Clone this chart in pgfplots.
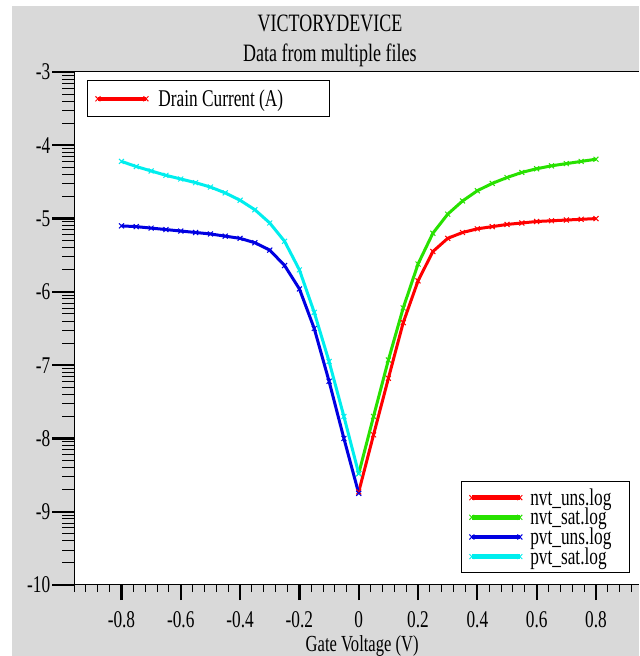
\documentclass[border=0pt]{standalone}
\usepackage{fontspec}
\setmainfont{Liberation Serif}[FakeStretch=0.72]
\usepackage{pgfplots}
\pgfplotsset{compat=1.18}
\definecolor{bg}{RGB}{217,217,217}
\definecolor{cred}{RGB}{255,0,0}
\definecolor{cgreen}{RGB}{40,225,0}
\definecolor{cblue}{RGB}{0,0,225}
\definecolor{ccyan}{RGB}{0,238,238}
\begin{document}
\begin{tikzpicture}
\fill[white] (0pt,0pt) rectangle (639pt,656pt);
\fill[bg] (12pt,0pt) rectangle (639pt,650pt);
\begin{axis}[
  at={(74pt,71pt)}, anchor=south west, scale only axis,
  width=565pt, height=513pt,
  xmin=-0.96, xmax=0.945, ymin=-10, ymax=-3,
  axis background/.style={fill=white},
  axis x line*=bottom, axis y line*=left,
  axis line style={line width=1pt},
  tick align=outside,
  xtick={-0.8,-0.6,-0.4,-0.2,0,0.2,0.4,0.6,0.8},
  minor xtick={-0.96,-0.92,-0.88,-0.84,-0.76,-0.72,-0.68,-0.64,-0.56,-0.52,-0.48,-0.44,-0.36,-0.32,-0.28,-0.24,-0.16,-0.12,-0.08,-0.04,0.04,0.08,0.12,0.16,0.24,0.28,0.32,0.36,0.44,0.48,0.52,0.56,0.64,0.68,0.72,0.76,0.84,0.88,0.92},
  ytick={-10,-9,-8,-7,-6,-5,-4,-3},
  minor ytick={-9.699,-9.523,-9.398,-9.301,-9.222,-9.155,-9.097,-9.046,
               -8.699,-8.523,-8.398,-8.301,-8.222,-8.155,-8.097,-8.046,
               -7.699,-7.523,-7.398,-7.301,-7.222,-7.155,-7.097,-7.046,
               -6.699,-6.523,-6.398,-6.301,-6.222,-6.155,-6.097,-6.046,
               -5.699,-5.523,-5.398,-5.301,-5.222,-5.155,-5.097,-5.046,
               -4.699,-4.523,-4.398,-4.301,-4.222,-4.155,-4.097,-4.046,
               -3.699,-3.523,-3.398,-3.301,-3.222,-3.155,-3.097,-3.046},
  xtick style={/pgfplots/major tick length=15pt,/pgfplots/minor tick length=7pt},
  ytick style={/pgfplots/major tick length=22pt,/pgfplots/minor tick length=12pt},
  every major tick/.append style={line width=2.2pt,black},
  every minor tick/.append style={line width=1pt,black},
  /pgf/number format/assume math mode=true,
  ticklabel style={font=\fontsize{24}{24}\selectfont},
  xticklabel style={yshift=-19pt},
  yticklabel style={xshift=-16pt},
  title={VICTORYDEVICE\\Data from multiple files},
  title style={at={(0.453,1)}, anchor=south, align=center,
    font=\fontsize{25}{30}\selectfont, yshift=-1pt, inner sep=0pt},
  xlabel={Gate Voltage (V)},
  xlabel style={at={(axis description cs:0.51,0)}, anchor=base, inner sep=0pt,
    yshift=-66pt, font=\fontsize{23}{23}\selectfont},
  legend style={at={(0.984,0.023)}, anchor=south east, draw=black,
    line width=1pt, font=\fontsize{24}{24}\selectfont,
    row sep=1.5pt, inner xsep=8pt, inner ysep=7pt,
    nodes={inner xsep=2pt, inner ysep=0pt}},
  legend cell align=left,
  legend image code/.code={\draw[#1,line width=4.5pt] plot coordinates {(0pt,0pt) (48pt,0pt)};},
  every axis plot/.append style={line width=3pt, mark=x, mark size=3.5pt,
    mark options={solid,line width=1pt}},
]
\addplot[cred] coordinates {
(0,-8.73) (0.05,-7.95) (0.10,-7.18) (0.15,-6.42) (0.20,-5.85) (0.25,-5.45)
(0.30,-5.27) (0.35,-5.19) (0.40,-5.14) (0.45,-5.11) (0.50,-5.08) (0.55,-5.06)
(0.60,-5.04) (0.65,-5.03) (0.70,-5.02) (0.75,-5.01) (0.80,-5.00)};
\addlegendentry{\hspace*{6pt}nvt\_uns.log\hspace*{8pt}}
\addplot[cgreen] coordinates {
(0,-8.48) (0.05,-7.70) (0.10,-6.93) (0.15,-6.22) (0.20,-5.62) (0.25,-5.20)
(0.30,-4.94) (0.35,-4.76) (0.40,-4.62) (0.45,-4.52) (0.50,-4.44) (0.55,-4.37)
(0.60,-4.32) (0.65,-4.28) (0.70,-4.25) (0.75,-4.22) (0.80,-4.19)};
\addlegendentry{\hspace*{6pt}nvt\_sat.log}
\addplot[cblue] coordinates {
(-0.80,-5.10) (-0.75,-5.11) (-0.70,-5.13) (-0.65,-5.15) (-0.60,-5.17) (-0.55,-5.19)
(-0.50,-5.21) (-0.45,-5.24) (-0.40,-5.27) (-0.35,-5.33) (-0.30,-5.43) (-0.25,-5.64)
(-0.20,-5.96) (-0.15,-6.50) (-0.10,-7.22) (-0.05,-8.00) (0,-8.75)};
\addlegendentry{\hspace*{6pt}pvt\_uns.log}
\addplot[ccyan] coordinates {
(-0.80,-4.22) (-0.75,-4.29) (-0.70,-4.35) (-0.65,-4.41) (-0.60,-4.46) (-0.55,-4.51)
(-0.50,-4.57) (-0.45,-4.65) (-0.40,-4.75) (-0.35,-4.88) (-0.30,-5.06) (-0.25,-5.31)
(-0.20,-5.70) (-0.15,-6.28) (-0.10,-6.95) (-0.05,-7.70) (0,-8.48)};
\addlegendentry{\hspace*{6pt}pvt\_sat.log}
\draw[line width=1pt] (rel axis cs:0,1) -- (rel axis cs:1,1);
\end{axis}
\begin{axis}[
  at={(74pt,71pt)}, anchor=south west, scale only axis,
  width=565pt, height=513pt, hide axis,
  xmin=0, xmax=1, ymin=0, ymax=1,
  legend style={at={(0.023,0.984)}, anchor=north west, draw=black,
    line width=1pt, font=\fontsize{24}{24}\selectfont,
    inner xsep=8pt, inner ysep=9pt, nodes={inner xsep=2pt, inner ysep=0pt}},
  legend cell align=left,
  legend image code/.code={\draw[#1,line width=4.5pt] plot coordinates {(0pt,0pt) (48pt,0pt)};},
]
\addlegendimage{cred, mark=x, mark size=3.5pt, mark options={solid,line width=1pt}}
\addlegendentry{\hspace*{8pt}Drain Current (A)\hspace*{36pt}}
\end{axis}
\end{tikzpicture}
\end{document}
